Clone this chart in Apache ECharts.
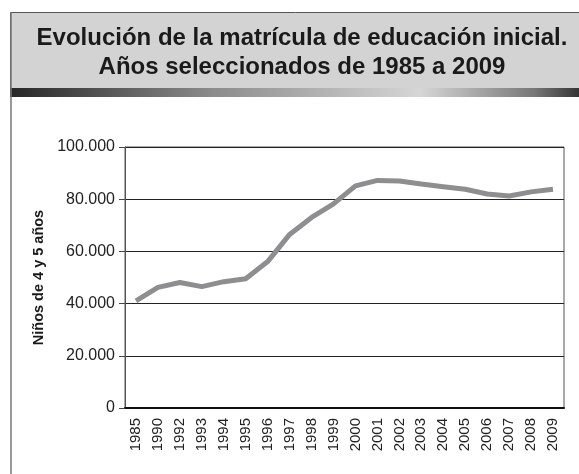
<!DOCTYPE html>
<html>
<head>
<meta charset="utf-8">
<script src="https://cdn.jsdelivr.net/npm/echarts@6/dist/echarts.min.js"></script>
<style>
  html, body { margin: 0; padding: 0; background: #fff; }
  #chart { width: 579px; height: 474px; }
</style>
</head>
<body>
<div id="chart"></div>
<script>
// años seleccionados
const years = ['1985', '1990', '1992', '1993', '1994', '1995', '1996', '1997', '1998', '1999',
  '2000', '2001', '2002', '2003', '2004', '2005', '2006', '2007', '2008', '2009'];
// niños de 4 y 5 años matriculados
const enrolment = [41000, 46200, 48100, 46500, 48400, 49500, 56100, 66500, 73000, 78200,
  85100, 87200, 87000, 85800, 84800, 83800, 82000, 81200, 82800, 83800];
const yTicks = [0, 20000, 40000, 60000, 80000, 100000];

const myChart = echarts.init(document.getElementById('chart'));

function fmt(v) {
  // separador de miles con punto
  return v === 0 ? '0' : String(v).replace(/\B(?=(\d{3})+(?!\d))/g, '.');
}

myChart.setOption({
  animation: false,
  title: {
    text: 'Evolución de la matrícula de educación inicial.\nAños seleccionados de 1985 a 2009',
    left: 297,
    top: 19,
    textAlign: 'center',
    textStyle: {
      fontFamily: 'Liberation Sans',
      fontWeight: 'bold',
      fontSize: 24,
      lineHeight: 29,
      color: '#1a1a1a'
    }
  },
  graphic: [
    {
      type: 'rect', z: -1, silent: true,
      shape: { x: 10.5, y: 12.5, width: 580, height: 76 },
      style: { fill: '#d3d3d4', stroke: '#555', lineWidth: 1 }
    },
    {
      type: 'rect', z: -1, silent: true,
      shape: { x: 10, y: 88, width: 570, height: 9 },
      style: {
        fill: {
          type: 'linear', x: 0, y: 0, x2: 1, y2: 0,
          colorStops: [
            { offset: 0, color: '#262626' },
            { offset: 0.35, color: '#8a8a8a' },
            { offset: 0.72, color: '#d6d6d6' },
            { offset: 0.92, color: '#777' },
            { offset: 1, color: '#333' }
          ]
        }
      }
    },
    {
      type: 'line', silent: true,
      shape: { x1: 11, y1: 12, x2: 11, y2: 474 },
      style: { stroke: '#777', lineWidth: 1.5 }
    }
  ],
  grid: { left: 125, right: 15, top: 147, bottom: 66, show: true, borderColor: '#555', borderWidth: 1, backgroundColor: 'transparent' },
  xAxis: {
    type: 'category',
    data: years,
    boundaryGap: true,
    axisLine: { lineStyle: { color: '#111', width: 2 } },
    axisTick: { length: 6, lineStyle: { color: '#444' } },
    axisLabel: {
      rotate: 90,
      interval: 0,
      margin: 10,
      fontFamily: 'Liberation Sans',
      fontSize: 15,
      color: '#222'
    }
  },
  yAxis: {
    type: 'value',
    min: 0,
    max: 100000,
    interval: 20000,
    name: 'Niños de 4 y 5 años',
    nameLocation: 'middle',
    nameGap: 74,
    nameTextStyle: {
      fontFamily: 'Liberation Sans',
      fontWeight: 'bold',
      fontSize: 14.5,
      color: '#1a1a1a'
    },
    axisLine: { show: true, lineStyle: { color: '#555' } },
    axisTick: { show: true, length: 6, lineStyle: { color: '#444' } },
    splitLine: { lineStyle: { color: '#222', width: 1 } },
    axisLabel: {
      margin: 10,
      fontFamily: 'Liberation Sans',
      fontSize: 16,
      color: '#222',
      formatter: function (v) { return yTicks.indexOf(v) >= 0 ? fmt(v) : ''; }
    }
  },
  series: [{
    type: 'line',
    data: enrolment,
    symbol: 'none',
    lineStyle: { color: '#8e8e90', width: 5 }
  }]
});
</script>
</body>
</html>
